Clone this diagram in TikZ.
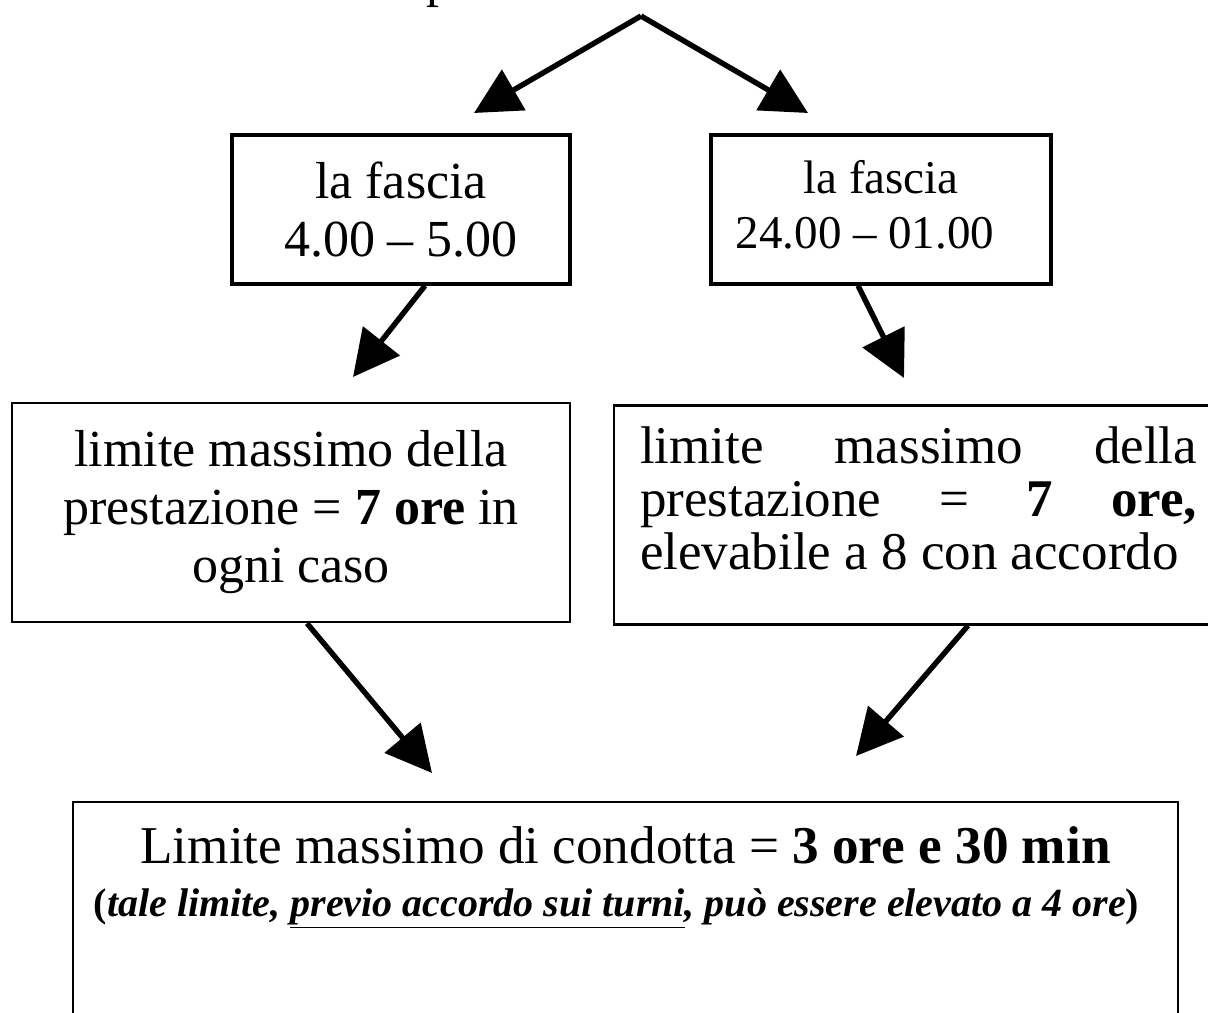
\documentclass[tikz,border=0pt]{standalone}
\usepackage{fontspec}
\setmainfont{Liberation Serif}
\usetikzlibrary{arrows.meta}
\tikzset{
  box/.style={draw,line width=1.3pt,inner sep=0pt,align=center,font=\fontsize{26}{29}\selectfont},
  freccia/.style={line width=2.7pt,-{Triangle[length=23pt,width=23pt]}}
}
\begin{document}
\begin{tikzpicture}[x=0.5pt,y=-0.5pt]
            \useasboundingbox (0,0) rectangle (1208,1012);
            \node[anchor=south west,inner sep=0pt,font=\fontsize{26}{29}\selectfont] (titolo) at (426,8) {p};
            \coordinate (apex) at (641,16);
            \coordinate (t1) at (474,113);
            \coordinate (t2) at (808,113);
            \coordinate (t3) at (353,377);
            \coordinate (t4) at (904,378);
            \coordinate (t5) at (432,773);
            \coordinate (t6) at (856,756);
            \node[box,line width=1.7pt,minimum width=169pt,minimum height=74.5pt] (f1) at (401,209.5) {la fascia\\4.00 – 5.00};
            \node[box,line width=1.7pt,font=\fontsize{23.5}{27.5}\selectfont,minimum width=170pt,minimum height=74.5pt,text depth=5pt] (f2) at (881,209.5) {la fascia\\24.00 – 01.00\hspace*{16pt}};
            \node[box,minimum width=279pt,minimum height=109.5pt] (m1) at (291,512.5) {limite massimo della\\prestazione = \textbf{7 ore} in\\ogni caso};
            \node[box,align=justify,font=\fontsize{26.5}{26.5}\selectfont,anchor=north,text width=278.5pt,minimum width=304.5pt,text height=29pt,text depth=80.5pt] (m2) at (918.5,404) {limite massimo della\linebreak prestazione = \textbf{7 ore,}\linebreak elevabile a 8 con accordo};
            \node[box,line width=1.1pt,anchor=north,minimum width=552.5pt,inner ysep=12pt,text depth=110pt,font=\fontsize{26.6}{26.5}\selectfont] (cond) at (625.5,801) {Limite massimo di condotta = \textbf{3 ore e 30 min}\\{\fontsize{20}{24}\selectfont\textbf{(\textit{tale limite, \underline{previo accordo sui turni}, può essere elevato a 4 ore})}\hspace*{9pt}}};
            \draw[freccia] (apex) -- (t1);
            \draw[freccia] (apex) -- (t2);
            \draw[freccia] ([xshift=12pt]f1.south) -- (t3);
            \draw[freccia] ([xshift=-11.5pt]f2.south) -- (t4);
            \draw[freccia] ([xshift=8pt]m1.south) -- (t5);
            \draw[freccia] ([xshift=24.75pt]m2.south) -- (t6);
        \end{tikzpicture}
\end{document}
